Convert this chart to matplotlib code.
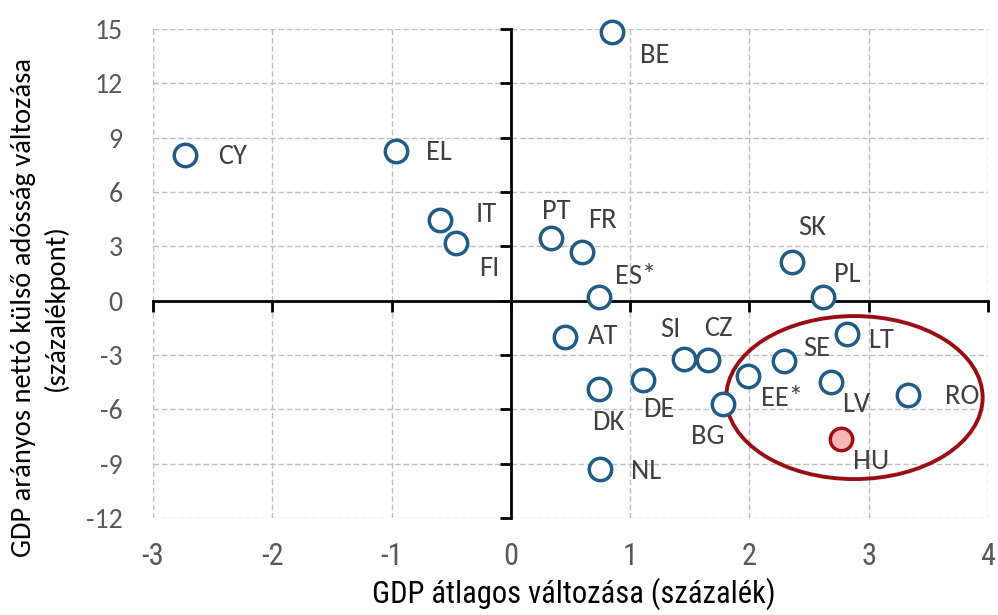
import matplotlib.pyplot as plt
from matplotlib.patches import Ellipse
from matplotlib import font_manager

# Adatok
countries = ['CY', 'EL', 'IT', 'FI', 'PT', 'FR', 'BE', 'ES*', 'AT', 'DK', 'NL', 'DE',
             'SI', 'CZ', 'BG', 'EE*', 'SE', 'SK', 'PL', 'LT', 'LV', 'RO']
gdp_growth = [-2.73, -0.96, -0.59, -0.46, 0.34, 0.60, 0.85, 0.74, 0.45, 0.74, 0.75, 1.11,
              1.45, 1.65, 1.78, 1.99, 2.29, 2.36, 2.62, 2.82, 2.68, 3.33]
debt_change = [8.04, 8.27, 4.46, 3.19, 3.46, 2.69, 14.84, 0.2, -2.0, -4.87, -9.3, -4.38,
               -3.22, -3.27, -5.7, -4.16, -3.33, 2.14, 0.2, -1.84, -4.49, -5.21]
hu_label = 'HU'
hu_growth = 2.77
hu_debt = -7.64

x_ticks = [-3, -2, -1, 0, 1, 2, 3, 4]
y_ticks = [-12, -9, -6, -3, 0, 3, 6, 9, 12, 15]

# Címke eltolások (pixel)
offsets = {
    'CY': (47, -1), 'EL': (43, -2), 'IT': (46, 5), 'FI': (33, -26), 'PT': (5, 27),
    'FR': (20, 31), 'BE': (42, -24), 'ES*': (36, 21), 'AT': (39, 0), 'DK': (9, -34),
    'NL': (46, -2), 'DE': (16, -29), 'SI': (-13, 30), 'CZ': (11, 31), 'BG': (-15, -33),
    'EE*': (34, -22), 'SE': (33, 12), 'SK': (20, 34), 'PL': (24, 23), 'LT': (34, -6),
    'LV': (26, -22), 'RO': (54, -1), 'HU': (30, -22),
}


def pick(*names):
    installed = {f.name for f in font_manager.fontManager.ttflist}
    for n in names:
        if n in installed:
            return n
    return 'DejaVu Sans'


main_font = pick('Carlito', 'Lato', 'Open Sans')
narrow_font = pick('Liberation Sans Narrow', 'Roboto Condensed', 'Archivo Narrow',
                   'PT Sans Narrow', 'Open Sans Condensed')

plt.rcParams['font.family'] = [main_font, 'DejaVu Sans']
plt.rcParams['axes.unicode_minus'] = False

fig = plt.figure(figsize=(9.98, 6.15), dpi=100)
ax = fig.add_axes([0.1533, 0.1577, 0.990 - 0.1533, 0.9528 - 0.1577])

ax.set_xlim(-3, 4)
ax.set_ylim(-12, 15)

# Rács
ax.set_xticks(x_ticks)
ax.set_yticks(y_ticks)
ax.grid(True, linestyle=(0, (4, 2)), color='#BFBFBF', linewidth=1)
ax.set_axisbelow(True)

# Tengelyek a nullában
for s in ['top', 'right']:
    ax.spines[s].set_visible(False)
ax.spines['left'].set_position(('data', 0))
ax.spines['bottom'].set_position(('data', 0))
for s in ['left', 'bottom']:
    ax.spines[s].set_linewidth(2)
    ax.spines[s].set_color('black')
ax.tick_params(direction='out', length=8, width=2, color='black',
               labelleft=False, labelbottom=False)

# Tengelyfeliratok a széleken
secx = ax.secondary_xaxis(0.0)
secx.set_xticks(x_ticks, [str(t) for t in x_ticks], fontfamily=narrow_font)
secx.tick_params(length=0, pad=17, labelsize=22, labelcolor='#595959')
secx.spines['bottom'].set_visible(False)

secy = ax.secondary_yaxis(0.0)
secy.set_yticks(y_ticks, [str(t) for t in y_ticks])
secy.tick_params(length=0, pad=22, labelsize=20, labelcolor='#595959')
secy.spines['left'].set_visible(False)

# Pontok
ax.scatter(gdp_growth, debt_change, s=260, facecolor='white', edgecolor='#215C88',
           linewidth=2.5, zorder=4, clip_on=False)
ax.scatter([hu_growth], [hu_debt], s=260, facecolor='#F7B7B7', edgecolor='#A00F14',
           linewidth=2.5, zorder=4)

for name, x, y in zip(countries + [hu_label], gdp_growth + [hu_growth], debt_change + [hu_debt]):
    ax.annotate(name, (x, y), xytext=offsets[name], textcoords='offset pixels',
                ha='center', va='center', fontsize=20.5, color='#404040', zorder=5)

# Ellipszis
ax.add_patch(Ellipse((2.88, -5.35), 2.15, 9.0, fill=False, edgecolor='#990E14',
                     linewidth=2.8, zorder=3))

fig.text(0.04, 0.50, 'GDP arányos nettó külső adósság változása\n(százalékpont)',
         rotation=90, ha='center', va='center', fontsize=20.5, color='black',
         linespacing=1.3)
fig.text(0.575, 0.034, 'GDP átlagos változása (százalék)', ha='center', va='center',
         fontsize=22, color='black', fontfamily=narrow_font)

fig.savefig('out.png', dpi=100)
